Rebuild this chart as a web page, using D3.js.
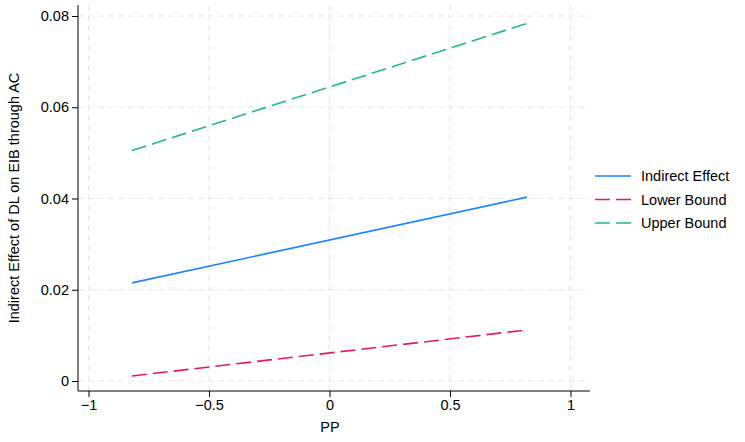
<!DOCTYPE html><html><head><script src="https://d3js.org/d3.v7.min.js"></script>
<style>body{margin:0;background:#fff}text{font-family:Arial,"Liberation Sans",sans-serif}</style></head><body><svg id="c" width="745" height="442"></svg><script>
const xVals=[-0.82,0.82];
const indirect=[0.0215,0.0403];
const lower=[0.0011,0.0112];
const upper=[0.0505,0.0784];
const xTicks=[-1,-0.5,0,0.5,1];
const yTicks=[0,0.02,0.04,0.06,0.08];
const seriesNames=["Indirect Effect","Lower Bound","Upper Bound"];
const colors=["#1a85ff","#e8185f","#1dbf7c"];
const svg=d3.select("#c");
const x=d3.scaleLinear().domain([-1,1]).range([88.5,570.5]);
const y=d3.scaleLinear().domain([0,0.08]).range([381,16]);
const L=78,R=590,T=5,B=391;
const FS=14.5;
const g=svg.append("g");
xTicks.forEach(t=>g.append("line").attr("x1",x(t)).attr("x2",x(t)).attr("y1",T).attr("y2",B).attr("stroke","#e6e6e6").attr("stroke-dasharray","6,4"));
yTicks.forEach(t=>g.append("line").attr("x1",L).attr("x2",R).attr("y1",y(t)).attr("y2",y(t)).attr("stroke","#e6e6e6").attr("stroke-dasharray","6,4"));
const fmt=v=>String(v).replace("-","\u2212");
g.append("g").attr("transform",`translate(0,${B})`).call(d3.axisBottom(x).tickValues(xTicks).tickFormat(fmt).tickSize(6).tickSizeOuter(0)).call(a=>{a.select(".domain").attr("d",`M${L},0H${R}`);a.selectAll("text").attr("font-size",FS).attr("font-family","Arial, Liberation Sans, sans-serif").attr("fill","#000");});
g.append("g").attr("transform",`translate(${L},0)`).call(d3.axisLeft(y).tickValues(yTicks).tickFormat(d=>d===0?"0":d3.format(".2f")(d)).tickSize(6).tickSizeOuter(0)).call(a=>{a.select(".domain").attr("d",`M0,${T}V${B}`);a.selectAll("text").attr("font-size",FS).attr("font-family","Arial, Liberation Sans, sans-serif").attr("fill","#000");});
g.selectAll(".domain").attr("stroke","#000");
svg.append("text").attr("x",330).attr("y",432).attr("text-anchor","middle").attr("font-size",FS).text("PP");
svg.append("text").attr("transform","translate(19,198) rotate(-90)").attr("text-anchor","middle").attr("font-size",FS).text("Indirect Effect of DL on EIB through AC");
const line=d3.line().x((d,i)=>x(xVals[i])).y(d=>y(d));
const dashes=[null,"15,6","15,6"];
[indirect,lower,upper].forEach((s,i)=>{svg.append("path").attr("d",line(s)).attr("fill","none").attr("stroke",colors[i]).attr("stroke-width",1.6).attr("stroke-dasharray",dashes[i]);});
seriesNames.forEach((n,i)=>{const yy=176+i*23.5;svg.append("line").attr("x1",595).attr("x2",631).attr("y1",yy).attr("y2",yy).attr("stroke",colors[i]).attr("stroke-width",1.6).attr("stroke-dasharray",dashes[i]);svg.append("text").attr("x",641).attr("y",yy+5).attr("font-size",FS).text(n);});
</script></body></html>
